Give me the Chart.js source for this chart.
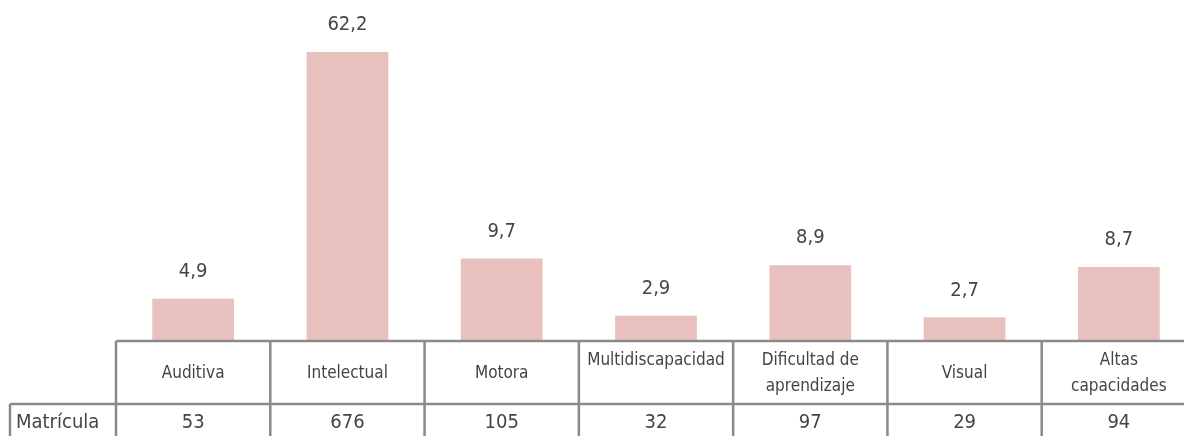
<!DOCTYPE html>
<html>
<head>
<meta charset="utf-8">
<script src="https://cdn.jsdelivr.net/npm/chart.js@4"></script>
<style>
  body { margin: 0; background: #fff; overflow: hidden; }
</style>
</head>
<body>
<canvas id="grafico" width="1200" height="436"></canvas>
<script>
const categorias = [['Auditiva'], ['Intelectual'], ['Motora'], ['Multidiscapacidad', ''], ['Dificultad de', 'aprendizaje'], ['Visual'], ['Altas', 'capacidades']];
const porcentajes = [4.9, 62.2, 9.7, 2.9, 8.9, 2.7, 8.7];
const matricula = [53, 676, 105, 32, 97, 29, 94];
const filaTitulo = 'Matrícula';

const fuente = "'DejaVu Sans Condensed', 'DejaVu Sans', sans-serif";
const colorLinea = '#8a8a8a';
const colorTexto = '#444';

// etiquetas de valor encima de cada barra (la de Intelectual va cortada arriba)
const etiquetasPlugin = {
  id: 'etiquetas',
  afterDatasetsDraw(chart) {
    const ctx = chart.ctx;
    const meta = chart.getDatasetMeta(0);
    ctx.save();
    ctx.font = '20px ' + fuente;
    ctx.fillStyle = colorTexto;
    ctx.textAlign = 'center';
    ctx.textBaseline = 'middle';
    meta.data.forEach((barra, i) => {
      const y = Math.max(barra.y, chart.chartArea.top);
      ctx.fillText(porcentajes[i].toFixed(1).replace('.', ','), barra.x, y - 27);
    });
    ctx.restore();
  }
};

// tabla de datos debajo del grafico
const tablaPlugin = {
  id: 'tabla',
  afterDraw(chart) {
    const ctx = chart.ctx;
    const escalaX = chart.scales.x;
    const area = chart.chartArea;
    const ancho = (area.right - area.left) / categorias.length;
    const arriba = area.bottom + 1;
    const medio = arriba + 63;
    const abajo = chart.height;

    ctx.save();
    ctx.strokeStyle = colorLinea;
    ctx.lineWidth = 2.5;
    ctx.beginPath();
    ctx.moveTo(area.left, arriba);
    ctx.lineTo(chart.width, arriba);
    ctx.moveTo(10, medio);
    ctx.lineTo(chart.width, medio);
    ctx.moveTo(10, medio);
    ctx.lineTo(10, abajo);
    for (let i = 0; i <= categorias.length; i++) {
      const xl = area.left + i * ancho;
      ctx.moveTo(xl, arriba);
      ctx.lineTo(xl, abajo);
    }
    ctx.stroke();

    ctx.fillStyle = colorTexto;
    ctx.textBaseline = 'middle';
    ctx.textAlign = 'center';
    ctx.font = '17px ' + fuente;
    categorias.forEach((lineas, i) => {
      const cx = escalaX.getPixelForValue(i);
      if (lineas.length === 1) {
        ctx.fillText(lineas[0], cx, (arriba + medio) / 2 + 1);
      } else {
        ctx.fillText(lineas[0], cx, arriba + 20);
        ctx.fillText(lineas[1], cx, arriba + 46);
      }
    });

    ctx.font = '20px ' + fuente;
    matricula.forEach((valor, i) => {
      ctx.fillText(String(valor), escalaX.getPixelForValue(i), medio + 19);
    });
    ctx.textAlign = 'left';
    ctx.fillText(filaTitulo, 16, medio + 19);
    ctx.restore();
  }
};

new Chart(document.getElementById('grafico'), {
  type: 'bar',
  data: {
    labels: categorias.map(c => c.join(' ')),
    datasets: [{
      label: 'Porcentaje',
      data: porcentajes,
      backgroundColor: '#e8c0be',
      borderWidth: 0,
      barPercentage: 0.53,
      categoryPercentage: 1
    }]
  },
  options: {
    responsive: false,
    animation: false,
    layout: { padding: { left: 116, right: 4, top: 52, bottom: 96 } },
    plugins: {
      legend: { display: false },
      tooltip: { enabled: false }
    },
    scales: {
      x: { display: false },
      y: { display: false, min: 0, max: 34.3 }
    }
  },
  plugins: [etiquetasPlugin, tablaPlugin]
});
</script>
</body>
</html>
